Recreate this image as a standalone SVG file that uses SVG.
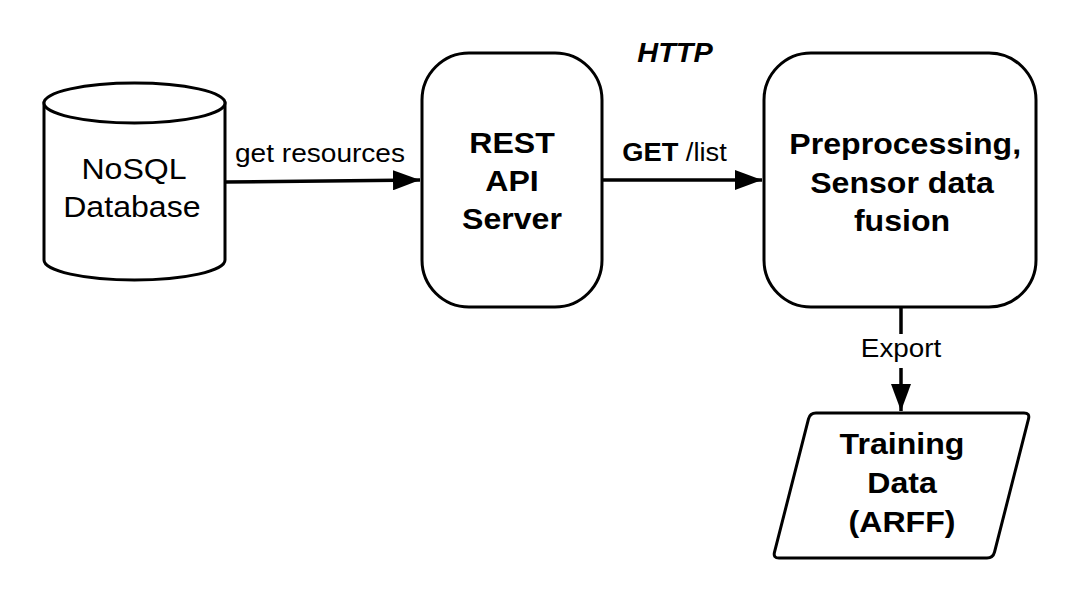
<svg xmlns="http://www.w3.org/2000/svg" width="1071" height="606" viewBox="0 0 1071 606">
<style>
.shape{fill:#fff;stroke:#000;stroke-width:3}
.conn{fill:none;stroke:#000;stroke-width:3.5}
.t{font-family:"Liberation Sans",Arial,sans-serif;fill:#000;text-anchor:middle}
.b{font-weight:bold}
.node{font-size:30px}
.lbl{font-size:26px}
</style>
<defs>
<marker id="ah" markerWidth="27" markerHeight="20" refX="27" refY="10" orient="auto" markerUnits="userSpaceOnUse">
<path d="M0,0 L27,10 L0,20 Z" fill="#000"/>
</marker>
</defs>
<rect width="1071" height="606" fill="#fff"/>
<g id="connectors">
<path class="conn" d="M225,182 L420,180" marker-end="url(#ah)"/>
<path class="conn" d="M602,180 L762,180" marker-end="url(#ah)"/>
<path class="conn" d="M901,307 L901,411" marker-end="url(#ah)"/>
<text class="t lbl" transform="translate(320,162) scale(1.08 1)">get resources</text>
<text class="t lbl" transform="translate(674.5,161) scale(1.05 1)"><tspan class="b">GET</tspan> /list</text>
<rect x="856" y="334" width="90" height="34" fill="#fff"/>
<text class="t lbl" transform="translate(901,357) scale(1.07 1)">Export</text>
</g>
<g id="http-label">
<text class="t b" transform="translate(675,62) scale(1.07 1)" font-size="27" font-style="italic">HTTP</text>
</g>
<g id="nosql-db">
<path class="shape" d="M44,103 L44,260 A90.5,20 0 0 0 225,260 L225,103 Z"/>
<ellipse class="shape" cx="134.5" cy="103" rx="90.5" ry="20"/>
<g transform="translate(134,0) scale(1.07 1)">
<text class="t node" x="0" y="179">NoSQL</text>
<text class="t node" x="-2" y="217">Database</text>
</g>
</g>
<g id="rest-api">
<rect class="shape" x="422" y="53" width="180" height="254" rx="47" ry="47"/>
<g transform="translate(512,0) scale(1.07 1)">
<text class="t b node" x="0" y="153">REST</text>
<text class="t b node" x="0" y="191">API</text>
<text class="t b node" x="0" y="229">Server</text>
</g>
</g>
<g id="preprocessing">
<rect class="shape" x="764" y="53" width="272" height="254" rx="47" ry="47"/>
<g transform="translate(902,0) scale(1.07 1)">
<text class="t b node" x="3" y="154">Preprocessing,</text>
<text class="t b node" x="0" y="193">Sensor data</text>
<text class="t b node" x="0" y="231">fusion</text>
</g>
</g>
<g id="training-data">
<path class="shape" d="M816,413 L1024,413 Q1030,413 1028.5,418.8 L994.5,552.2 Q993,558 987,558 L779,558 Q773,558 774.5,552.2 L808.5,418.8 Q810,413 816,413 Z"/>
<g transform="translate(902,0) scale(1.07 1)">
<text class="t b node" x="0" y="454">Training</text>
<text class="t b node" x="0" y="493">Data</text>
<text class="t b node" x="0" y="532">(ARFF)</text>
</g>
</g>
</svg>
